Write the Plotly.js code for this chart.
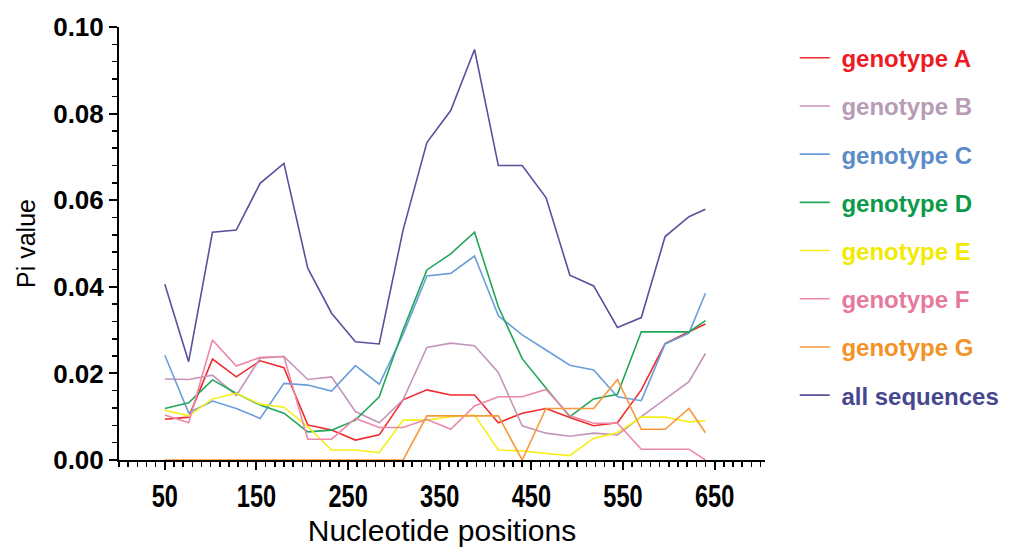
<!DOCTYPE html>
<html>
<head>
<meta charset="utf-8">
<script src="https://cdn.plot.ly/plotly-3.0.1.min.js"></script>
<style>
html,body{margin:0;padding:0;background:#fff;}
#chart{width:1009px;height:548px;}
</style>
</head>
<body>
<div id="chart"></div>
<script>
const positions = [50,76,102,128,154,180,206,232,258,284,310,336,362,388,414,440,466,492,518,544,570,596,622,640];

const genotypeA = [0.0094,0.0099,0.0233,0.0192,0.0229,0.0213,0.0081,0.0069,0.0046,0.0058,0.0139,0.0162,0.0150,0.0150,0.0086,0.0108,0.0119,0.0098,0.0079,0.0086,0.0162,0.0269,0.0296,0.0314];
const genotypeB = [0.0187,0.0186,0.0196,0.0149,0.0235,0.0239,0.0186,0.0192,0.0112,0.0086,0.0139,0.0260,0.0270,0.0264,0.0202,0.0079,0.0062,0.0055,0.0062,0.0058,0.0100,0.0140,0.0181,0.0246];
const genotypeC = [0.0242,0.0109,0.0136,0.0119,0.0096,0.0177,0.0173,0.0159,0.0218,0.0175,0.0290,0.0425,0.0431,0.0471,0.0333,0.0289,0.0254,0.0219,0.0208,0.0146,0.0137,0.0268,0.0293,0.0385];
const genotypeD = [0.0119,0.0132,0.0185,0.0154,0.0127,0.0108,0.0065,0.0069,0.0092,0.0146,0.0300,0.0439,0.0476,0.0526,0.0354,0.0234,0.0166,0.0100,0.0141,0.0152,0.0296,0.0296,0.0296,0.0322];
const genotypeE = [0.0115,0.0102,0.0141,0.0154,0.0129,0.0122,0.0077,0.0023,0.0023,0.0017,0.0092,0.0092,0.0100,0.0104,0.0023,0.0021,0.0015,0.0010,0.0050,0.0063,0.0099,0.0099,0.0088,0.0091];
const genotypeF = [0.0104,0.0086,0.0277,0.0217,0.0237,0.0239,0.0048,0.0048,0.0096,0.0075,0.0075,0.0094,0.0071,0.0125,0.0146,0.0146,0.0163,0.0102,0.0085,0.0085,0.0025,0.0025,0.0025,0.0000];
const genotypeG = [0,0,0,0,0,0,0,0,0,0,0,0.0102,0.0102,0.0102,0.0102,0,0.0119,0.0119,0.0119,0.0186,0.0071,0.0071,0.0119,0.0063];
const allSequences = [0.0406,0.0227,0.0526,0.0531,0.0639,0.0685,0.0443,0.0339,0.0273,0.0268,0.0531,0.0733,0.0807,0.0948,0.0680,0.0680,0.0606,0.0427,0.0402,0.0306,0.0329,0.0516,0.0562,0.0579];

const seriesNames = ['genotype A','genotype B','genotype C','genotype D','genotype E','genotype F','genotype G','all sequences'];
const seriesValues = [genotypeA,genotypeB,genotypeC,genotypeD,genotypeE,genotypeF,genotypeG,allSequences];
const lineColors = ['#ef2b2f','#c595b9','#6a9edb','#22a65a','#f6ef1c','#ec88a8','#f7993a','#56529c'];
const textColors = ['#ec1c24','#b89bb4','#5b8cc8','#0c9a48','#f2eb00','#e7799c','#f39325','#46478e'];

const traces = seriesNames.map((name, i) => ({
  x: positions,
  y: seriesValues[i],
  type: 'scatter',
  mode: 'lines',
  name: '<span style="color:' + textColors[i] + '">&nbsp;' + name + '</span>',
  legendgroup: 'g' + i,
  line: {color: lineColors[i], width: 1.6},
  hoverinfo: 'x+y'
}));

const layout = {
  width: 1009,
  height: 548,
  margin: {l: 119, r: 244, t: 27, b: 88, autoexpand: false},
  paper_bgcolor: '#ffffff',
  plot_bgcolor: '#ffffff',
  showlegend: true,
  legend: {
    x: 1.046, xanchor: 'left',
    y: 0.98, yanchor: 'top',
    font: {family: 'Liberation Sans, Arial, sans-serif', size: 24, weight: 'bold', color: '#000'},
    tracegroupgap: 14,
    bgcolor: 'rgba(0,0,0,0)',
    itemwidth: 30
  },
  xaxis: {
    range: [0, 705],
    showgrid: false,
    zeroline: false,
    showline: true,
    linecolor: '#000',
    linewidth: 2,
    ticks: 'outside',
    ticklen: 8,
    tickwidth: 2,
    tickcolor: '#000',
    tick0: 50,
    dtick: 100,
    minor: {dtick: 10, tick0: 0, ticks: 'outside', ticklen: 5, tickwidth: 1.5, tickcolor: '#000', showgrid: false},
    tickfont: {family: 'Liberation Sans, Arial, sans-serif', size: 31, weight: 'bold', color: '#000'},
    title: {text: 'Nucleotide positions', font: {family: 'Liberation Sans, Arial, sans-serif', size: 30, color: '#000'}, standoff: 1},
    fixedrange: true
  },
  yaxis: {
    range: [0, 0.1],
    showgrid: false,
    zeroline: false,
    showline: true,
    linecolor: '#000',
    linewidth: 2,
    ticks: 'outside',
    ticklen: 8,
    tickwidth: 2,
    tickcolor: '#000',
    tick0: 0,
    dtick: 0.02,
    tickformat: '.2f',
    minor: {dtick: 0.004, ticks: 'outside', ticklen: 5, tickwidth: 1.5, tickcolor: '#000', showgrid: false},
    tickfont: {family: 'Liberation Sans, Arial, sans-serif', size: 26, weight: 'bold', color: '#000'},
    title: {text: 'Pi value', font: {family: 'Liberation Sans, Arial, sans-serif', size: 25, color: '#000'}, standoff: 10},
    fixedrange: true
  }
};

Plotly.newPlot('chart', traces, layout, {displayModeBar: false, staticPlot: true}).then(gd => {
  // condensed look of the x tick labels
  gd.querySelectorAll('.xtick text').forEach(t => {
    const w = t.getComputedTextLength();
    t.setAttribute('textLength', (w * 0.76).toFixed(1));
    t.setAttribute('lengthAdjust', 'spacingAndGlyphs');
  });
});
</script>
</body>
</html>
